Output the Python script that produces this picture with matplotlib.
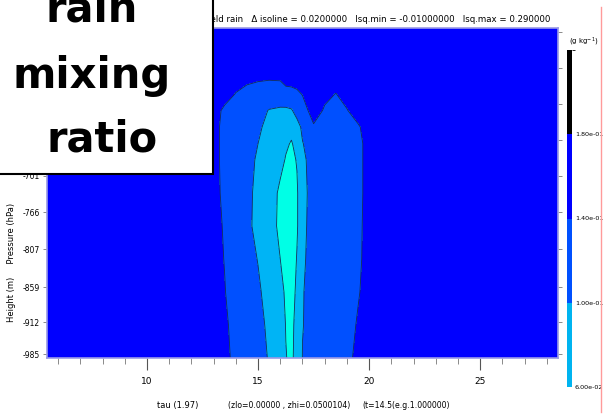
import numpy as np
import matplotlib.pyplot as plt
from matplotlib.colors import ListedColormap, BoundaryNorm
from matplotlib.patches import Rectangle
import matplotlib as mpl

W, H = 605, 417
narrow = ['Liberation Sans Narrow', 'DejaVu Sans']

# grid of the rain mixing ratio field (g/kg), rows = levels, cols = time
time_x = [12.5, 13.0, 13.5, 14.0, 14.5, 15.0, 15.5, 16.0, 16.25, 16.5,
          16.75, 17.0, 17.5, 18.0, 18.5, 19.0, 19.5, 20.0, 20.5]
lev_y = [0, 1, 2, 3, 4, 5, 6, 6.5, 7, 7.5, 8, 8.5, 10]
qr = [
    [0, 0, 0,     0.04,  0.05,  0.06,  0.084, 0.12,  0.158, 0.17,  0.14,  0.078, 0.06,  0.05,  0.045, 0.04,  0,     0, 0],
    [0, 0, 0.01,  0.04,  0.05,  0.065, 0.09,  0.13,  0.162, 0.175, 0.14,  0.082, 0.06,  0.05,  0.045, 0.04,  0.015, 0, 0],
    [0, 0, 0.018, 0.045, 0.055, 0.072, 0.10,  0.14,  0.17,  0.19,  0.145, 0.083, 0.06,  0.05,  0.045, 0.04,  0.024, 0, 0],
    [0, 0, 0.022, 0.045, 0.06,  0.082, 0.11,  0.16,  0.19,  0.21,  0.155, 0.088, 0.06,  0.05,  0.045, 0.04,  0.03,  0, 0],
    [0, 0, 0.026, 0.05,  0.072, 0.09,  0.12,  0.18,  0.22,  0.24,  0.17,  0.092, 0.06,  0.05,  0.045, 0.04,  0.032, 0, 0],
    [0, 0, 0.034, 0.055, 0.07,  0.09,  0.12,  0.175, 0.22,  0.23,  0.17,  0.095, 0.06,  0.05,  0.045, 0.04,  0.035, 0, 0],
    [0, 0, 0.038, 0.055, 0.068, 0.085, 0.11,  0.14,  0.165, 0.18,  0.155, 0.09,  0.06,  0.05,  0.045, 0.04,  0.035, 0, 0],
    [0, 0, 0.038, 0.05,  0.06,  0.08,  0.10,  0.125, 0.15,  0.165, 0.14,  0.082, 0.055, 0.05,  0.045, 0.04,  0.035, 0, 0],
    [0, 0, 0.038, 0.05,  0.06,  0.072, 0.094, 0.11,  0.13,  0.14,  0.10,  0.07,  0.025, 0.03,  0.04,  0.035, 0.025, 0, 0],
    [0, 0, 0.03,  0.045, 0.05,  0.06,  0.083, 0.09,  0.09,  0.085, 0.06,  0.04,  0,     0.025, 0.035, 0.022, 0,     0, 0],
    [0, 0, 0,     0.022, 0.03,  0.035, 0.04,  0.04,  0.038, 0.035, 0.028, 0.018, 0,     0.01,  0.021, 0.005, 0,     0, 0],
    [0, 0, 0,     0,     0.012, 0.015, 0.016, 0.015, 0,     0,     0,     0,     0,     0,     0,     0,     0,     0, 0],
    [0, 0, 0,     0,     0,     0,     0,     0,     0,     0,     0,     0,     0,     0,     0,     0,     0,     0, 0],
]
x_lim = [5.5, 28.5]

clev = [-0.01, 0.02, 0.08, 0.16, 0.29]
fill_colors = ['#0000ff', '#0050ff', '#00b4f5', '#00ffe6']

xticks = [10, 15, 20, 25]
ytick_pos = [0.12, 1.09, 2.15, 3.3, 4.42, 5.52, 6.6, 7.7, 8.79, 9.88]
ytick_lab = ['-985', '-912', '-859', '-807', '-766', '-701', '-652', '-598', '-547', '-500']

cb_bounds = [0.06, 0.10, 0.14, 0.18, 0.22]
cb_colors = ['#00b4f0', '#0050ff', '#0000ff', '#000000']
cb_labels = ['6.00e-02', '1.00e-01', '1.40e-01', '1.80e-01']

xs = [x_lim[0]] + time_x + [x_lim[1]]
field = np.pad(np.array(qr, dtype=float), ((0, 0), (1, 1)))

fig = plt.figure(figsize=(W / 100, H / 100), dpi=100)
ax = fig.add_axes([47 / W, 1 - 358 / H, 511 / W, 330 / H])
ax.contourf(xs, lev_y, field, levels=clev, colors=fill_colors)
ax.contour(xs, lev_y, field, levels=clev[1:-1], colors='#152a5a', linewidths=0.6)
ax.set_xlim(x_lim)
ax.set_ylim(0, 10)

ax.set_xticks(xticks, [str(t) for t in xticks], family=narrow)
ax.set_xticks(range(6, 29), minor=True)
ax.tick_params(axis='x', which='major', length=8.5, width=0.8, color='#555555',
               pad=5, labelsize=6.5)
ax.tick_params(axis='x', which='minor', length=4.3, width=0.6, color='#777777')
ax.set_yticks(ytick_pos, ytick_lab, family=narrow)
ax.tick_params(axis='y', left=True, right=True, length=3, width=0.6,
               color='#777777', labelsize=5.5, pad=2)
for s in ax.spines.values():
    s.set_color('#9a9ae6')
    s.set_linewidth(1.2)

# title line above the plot
fig.text(550 / W, 1 - 22 / H,
         'field rain   \u0394 isoline = 0.0200000   lsq.min = -0.01000000   lsq.max = 0.290000',
         ha='right', va='baseline', fontsize=6.2, family=narrow, zorder=3)

# axis annotations
fig.text(157 / W, 1 - 408 / H, 'tau (1.97)', ha='left', va='baseline',
         fontsize=6, family=narrow)
fig.text(228 / W, 1 - 408 / H, '(zlo=0.00000 , zhi=0.0500104)', ha='left',
         va='baseline', fontsize=5.6, family=narrow)
fig.text(362 / W, 1 - 408 / H, '(t=14.5(e.g.1.000000)', ha='left',
         va='baseline', fontsize=5.6, family=narrow)
fig.text(12 / W, 1 - 262 / H, 'Height (m)     Pressure (hPa)', rotation=90,
         ha='center', va='center', fontsize=6, family=narrow)

# colour key
cax = fig.add_axes([567 / W, 1 - 387 / H, 5 / W, 337 / H])
cmap = ListedColormap(cb_colors)
norm = BoundaryNorm(cb_bounds, cmap.N)
cb = fig.colorbar(mpl.cm.ScalarMappable(norm=norm, cmap=cmap), cax=cax,
                  ticks=cb_bounds[:-1])
cb.ax.set_yticklabels(cb_labels, family=narrow)
cb.ax.tick_params(length=0, labelsize=4.6, pad=2)
cb.outline.set_visible(False)
fig.text(569 / W, 1 - 44 / H, '(g kg$^{-1}$)', ha='left', va='baseline',
         fontsize=5, family=narrow)

# thin border on the right
fig.add_artist(plt.Line2D([601 / W, 601 / W], [1 - 412 / H, 1 - 7 / H],
                          color='#ff9a9a', lw=1.0, transform=fig.transFigure))

# label box in the upper left corner
fig.add_artist(Rectangle((-0.02, 1 - 174 / H), 0.02 + 213 / W, 0.1 + 174 / H,
                         facecolor='white', edgecolor='black', lw=1.5,
                         transform=fig.transFigure, zorder=5))
fig.text(92 / W, 1 - 21 / H, 'rain', ha='center', va='baseline', fontsize=30,
         fontweight='bold', zorder=6)
fig.text(92 / W, 1 - 88 / H, 'mixing', ha='center', va='baseline', fontsize=30,
         fontweight='bold', zorder=6)
fig.text(102 / W, 1 - 152 / H, 'ratio', ha='center', va='baseline', fontsize=30,
         fontweight='bold', zorder=6)

fig.savefig('out.png', dpi=100)
